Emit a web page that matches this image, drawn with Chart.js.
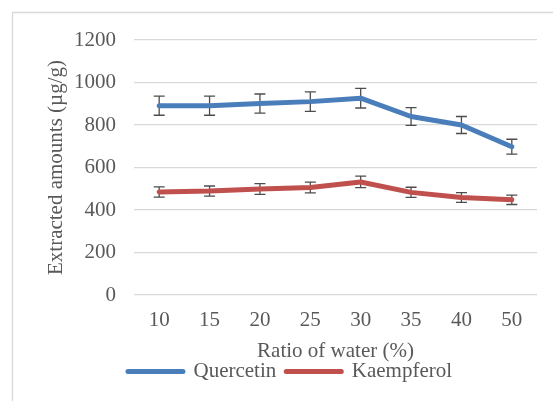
<!DOCTYPE html>
<html>
<head>
<meta charset="utf-8">
<script src="https://cdn.jsdelivr.net/npm/chart.js@4"></script>
<style>
  body { margin: 0; background: #fff; overflow: hidden; }
</style>
</head>
<body>
<canvas id="chart" width="553" height="401"></canvas>
<script>
// water ratio categories
const labels = ['10', '15', '20', '25', '30', '35', '40', '50'];

const quercetin = [891, 891, 901, 910, 926, 840, 800, 698];
const quercetinErr = [45, 45, 45, 46, 46, 42, 40, 35];

const kaempferol = [485, 489, 499, 506, 532, 483, 459, 448];
const kaempferolErr = [24, 24, 25, 25, 27, 24, 23, 22];

const textColor = '#595959';
const fontFamily = '"Liberation Serif", "Times New Roman", serif';

// chart frame: only the left and top edges are inside the picture
const frame = {
    id: 'frame',
    beforeDraw(chart) {
        const ctx = chart.ctx;
        ctx.save();
        ctx.strokeStyle = '#d9d9d9';
        ctx.lineWidth = 1.3;
        ctx.beginPath();
        ctx.moveTo(12.5, chart.height);
        ctx.lineTo(12.5, 12.5);
        ctx.lineTo(chart.width, 12.5);
        ctx.stroke();
        ctx.restore();
    }
};

// draws the vertical error bars with little caps
const errorBars = {
    id: 'errorBars',
    beforeDatasetsDraw(chart) {
        const ctx = chart.ctx;
        const yScale = chart.scales.y;
        ctx.save();
        ctx.strokeStyle = '#4d4d4d';
        ctx.lineWidth = 1.3;
        chart.data.datasets.forEach((ds, i) => {
            const meta = chart.getDatasetMeta(i);
            meta.data.forEach((pt, j) => {
                const top = yScale.getPixelForValue(ds.data[j] + ds.errors[j]);
                const bot = yScale.getPixelForValue(ds.data[j] - ds.errors[j]);
                ctx.beginPath();
                ctx.moveTo(pt.x, top);
                ctx.lineTo(pt.x, bot);
                ctx.moveTo(pt.x - 5.5, top);
                ctx.lineTo(pt.x + 5.5, top);
                ctx.moveTo(pt.x - 5.5, bot);
                ctx.lineTo(pt.x + 5.5, bot);
                ctx.stroke();
            });
        });
        ctx.restore();
    }
};

const ctx = document.getElementById('chart').getContext('2d');

new Chart(ctx, {
    type: 'line',
    data: {
        labels: labels,
        datasets: [
            {
                label: 'Quercetin',
                data: quercetin,
                errors: quercetinErr,
                borderColor: '#4a7ebb',
                backgroundColor: '#4a7ebb',
                borderWidth: 5,
                borderCapStyle: 'round',
                borderJoinStyle: 'round',
                pointRadius: 0,
                pointBorderWidth: 5,
                pointBorderColor: '#4a7ebb',
                tension: 0,
            },
            {
                label: 'Kaempferol',
                data: kaempferol,
                errors: kaempferolErr,
                borderColor: '#c0504d',
                backgroundColor: '#c0504d',
                borderWidth: 5,
                borderCapStyle: 'round',
                borderJoinStyle: 'round',
                pointRadius: 0,
                pointBorderWidth: 5,
                pointBorderColor: '#c0504d',
                tension: 0,
            },
        ],
    },
    options: {
        responsive: false,
        animation: false,
        layout: {
            padding: { left: 43, right: 16, top: 40, bottom: 9 },
        },
        plugins: {
            tooltip: { enabled: false },
            legend: {
                position: 'bottom',
                labels: {
                    usePointStyle: true,
                    pointStyle: 'line',
                    pointStyleWidth: 55,
                    padding: 10,
                    color: textColor,
                    font: { family: fontFamily, size: 21 },
                    generateLabels: (chart) =>
                        Chart.defaults.plugins.legend.labels.generateLabels(chart).map(item => ({
                            ...item,
                            lineWidth: 5,
                            lineCap: 'round',
                        })),
                },
            },
        },
        scales: {
            x: {
                offset: true,
                grid: { display: false, drawTicks: false },
                border: { display: false },
                ticks: {
                    padding: 13,
                    color: textColor,
                    font: { family: fontFamily, size: 21 },
                },
                title: {
                    display: true,
                    text: 'Ratio of water (%)',
                    color: textColor,
                    font: { family: fontFamily, size: 21 },
                    padding: { top: 0, bottom: -13 },
                },
                afterFit: (scale) => { scale.height = 56; },
            },
            y: {
                min: 0,
                max: 1200,
                grid: { color: '#d9d9d9', lineWidth: 1.3, drawTicks: false },
                border: { display: false },
                ticks: {
                    stepSize: 200,
                    padding: 18,
                    color: textColor,
                    font: { family: fontFamily, size: 21 },
                    callback: (value) => String(value),
                },
                title: {
                    display: true,
                    text: 'Extracted amounts (µg/g)',
                    color: textColor,
                    font: { family: fontFamily, size: 21 },
                    padding: { top: 1, bottom: 0 },
                },
                afterFit: (scale) => { scale.width = 91; },
            },
        },
    },
    plugins: [frame, errorBars],
});
</script>
</body>
</html>
